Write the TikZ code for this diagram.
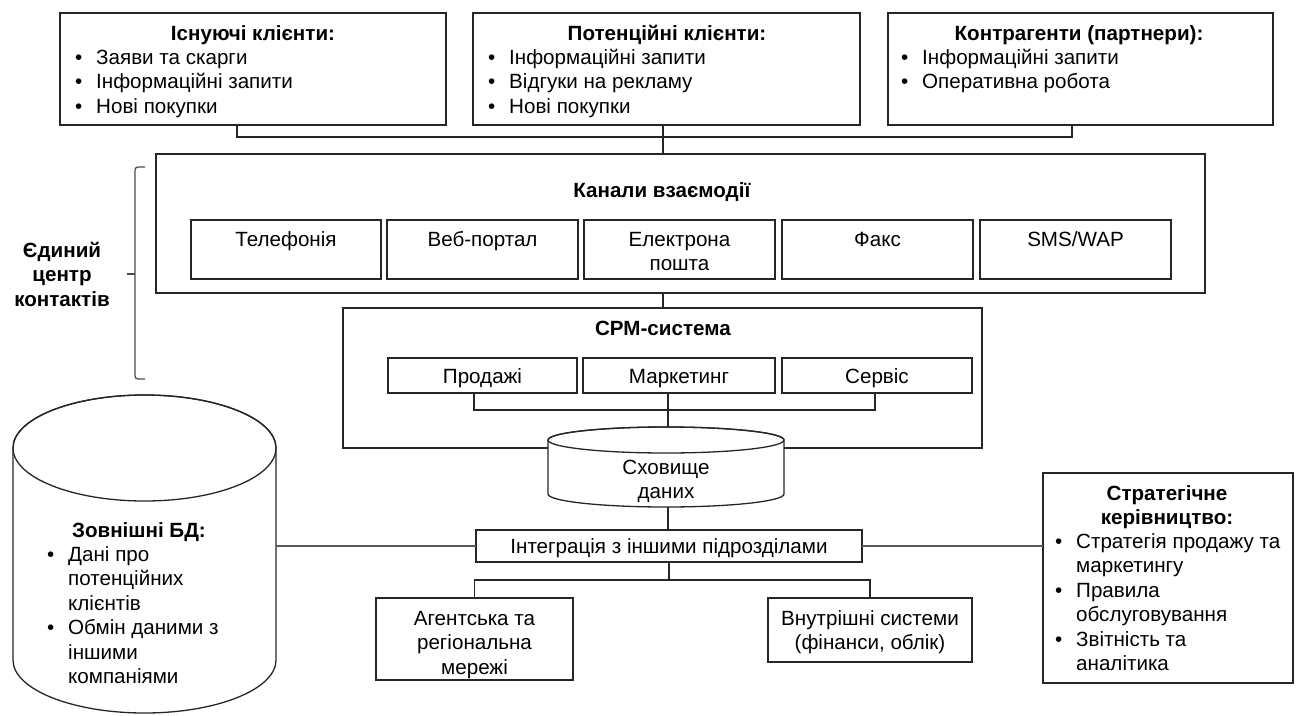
\documentclass[tikz,border=0pt]{standalone}
\usepackage{fontspec}
\setmainfont{Liberation Sans}
\newcommand\bl{\makebox[21pt][l]{•}}
\newcommand\ind{\hspace*{21pt}}
\begin{document}
\begin{tikzpicture}[x=1pt,y=-1pt,
  font=\fontsize{20.6}{24.5}\selectfont,
  box/.style={draw=black!85, line width=1.3pt, fill=white, inner sep=0pt, outer sep=0pt, anchor=north west},
  conn/.style={draw=black!85, line width=1.2pt},
  graycon/.style={draw=black!65, line width=1.5pt},
  txt/.style={inner sep=0pt, anchor=base},
  lst/.style={inner sep=0pt, anchor=base west},
]
\useasboundingbox (0,0) rectangle (1298,715);

% ---------- top boxes
\node[box, minimum width=386pt, minimum height=112pt] (b1) at (60,13) {};
\node[box, minimum width=387pt, minimum height=112pt] (b2) at (473,13) {};
\node[box, minimum width=385pt, minimum height=112pt] (b3) at (888,13) {};

\node[txt] (b1t) at (253,40) {\textbf{Існуючі клієнти:}};
\node[lst] (b1l) at (75,64) {\begin{tabular}[t]{@{}l@{}}\bl Заяви та скарги\\ \bl Інформаційні запити\\ \bl Нові покупки\end{tabular}};
\node[txt] (b2t) at (667,40) {\textbf{Потенційні клієнти:}};
\node[lst] (b2l) at (488,64) {\begin{tabular}[t]{@{}l@{}}\bl Інформаційні запити\\ \bl Відгуки на рекламу\\ \bl Нові покупки\end{tabular}};
\node[txt] (b3t) at (1079,40) {\textbf{Контрагенти (партнери):}};
\node[lst] (b3l) at (901,64) {\begin{tabular}[t]{@{}l@{}}\bl Інформаційні запити\\ \bl Оперативна робота\end{tabular}};

% ---------- channels
\node[box, minimum width=1049pt, minimum height=139pt] (kan) at (156,154) {};
\node[txt] (kant) at (662,197) {\textbf{Канали взаємодії}};
\node[box, minimum width=190pt, minimum height=59pt] (tel) at (191,220) {};
\node[box, minimum width=191pt, minimum height=59pt] (web) at (387,220) {};
\node[box, minimum width=191pt, minimum height=59pt] (mail) at (584,220) {};
\node[box, minimum width=191pt, minimum height=59pt] (fax) at (782,220) {};
\node[box, minimum width=191pt, minimum height=59pt] (sms) at (980,220) {};
\node[txt] (telt) at ([yshift=-26pt]tel.north) {Телефонія};
\node[txt] (webt) at ([yshift=-26pt]web.north) {Веб-портал};
\node[txt] (mailt) at ([yshift=-26pt]mail.north) {\begin{tabular}[t]{@{}c@{}}Електрона\\пошта\end{tabular}};
\node[txt] (faxt) at ([yshift=-26pt]fax.north) {Факс};
\node[txt] (smst) at ([yshift=-26pt]sms.north) {SMS/WAP};

% ---------- CRM
\node[box, minimum width=639pt, minimum height=140pt] (crm) at (343,308) {};
\node[txt] (crmt) at (663,335) {\textbf{СРМ-система}};
\node[box, minimum width=189pt, minimum height=35pt] (sales) at (388,358) {};
\node[box, minimum width=192pt, minimum height=35pt] (mkt) at (583,358) {};
\node[box, minimum width=190pt, minimum height=35pt] (serv) at (782,358) {};
\node[txt] (salest) at ([yshift=-7.5pt]sales.center) {Продажі};
\node[txt] (mktt) at ([yshift=-7.5pt]mkt.center) {Маркетинг};
\node[txt] (servt) at ([yshift=-7.5pt]serv.center) {Сервіс};

% ---------- connectors top
\coordinate (j1) at (237,137);
\coordinate (j2) at (1072,137);
\coordinate (k1) at (663,0);
\draw[conn] (b1.south -| j1) -- (j1) -- (j2) -- (b3.south -| j2);
\draw[conn] (b2.south -| k1) -- (kan.north -| k1);
\draw[conn] (kan.south -| k1) -- (crm.north -| k1);
\coordinate (c1) at (474,410);
\coordinate (c2) at (875,410);
\draw[conn] (sales.south -| c1) -- (c1) -- (c2) -- (serv.south -| c2);
\coordinate (m1) at (668,427);
\draw[conn] (mkt.south -| m1) -- (m1);

% ---------- data store cylinder
\filldraw[draw=black!85, line width=1.3pt, fill=white]
  (548,440) -- (548,494) arc[start angle=180, end angle=0, x radius=118, y radius=13]
  -- (784,440) arc[start angle=360, end angle=180, x radius=118, y radius=13] -- cycle;
\draw[draw=black!85, line width=1.3pt] (666,440) ellipse [x radius=118, y radius=13];
\node[txt] (store) at (666,474) {\begin{tabular}[t]{@{}c@{}}Сховище\\даних\end{tabular}};
\coordinate (sb) at (668,507);

% ---------- integration
\node[box, minimum width=386pt, minimum height=32pt] (integ) at (476,530) {};
\node[txt] (integt) at ([yshift=-7.5pt]integ.center) {Інтеграція з іншими підрозділами};
\draw[conn] (sb) -- (integ.north -| sb);

\node[box, minimum width=197pt, minimum height=82pt] (agent) at (376,598) {};
\node[box, minimum width=204pt, minimum height=64pt] (inner) at (768,598) {};
\node[txt] (agentt) at (474.5,625) {\begin{tabular}[t]{@{}c@{}}Агентська та\\регіональна\\мережі\end{tabular}};
\node[txt] (innert) at (870,625) {\begin{tabular}[t]{@{}c@{}}Внутрішні системи\\(фінанси, облік)\end{tabular}};
\coordinate (d1) at (669,580);
\draw[conn] (integ.south -| d1) -- (d1);
\draw[conn] (agent.north) |- (d1) -| (inner.north);

% ---------- strategic
\node[box, minimum width=250pt, minimum height=210pt] (strat) at (1043,473) {};
\node[txt] (stratt) at (1167,500) {\begin{tabular}[t]{@{}c@{}}\textbf{Стратегічне}\\\textbf{керівництво:}\end{tabular}};
\node[lst] (stratl) at (1055,548) {\begin{tabular}[t]{@{}l@{}}\bl Стратегія продажу та\\ \ind маркетингу\\ \bl Правила\\ \ind обслуговування\\ \bl Звітність та\\ \ind аналітика\end{tabular}};

% ---------- external DB cylinder
\filldraw[draw=black!85, line width=1.3pt, fill=white]
  (13,448) -- (13,660) arc[start angle=180, end angle=0, x radius=131.5, y radius=53]
  -- (276,448) arc[start angle=360, end angle=180, x radius=131.5, y radius=53] -- cycle;
\draw[draw=black!85, line width=1.3pt] (144.5,448) ellipse [x radius=131.5, y radius=53];
\node[txt] (extt) at (139,537) {\textbf{Зовнішні БД:}};
\node[lst] (extl) at (47,561) {\begin{tabular}[t]{@{}l@{}}\bl Дані про\\ \ind потенційних\\ \ind клієнтів\\ \bl Обмін даними з\\ \ind іншими\\ \ind компаніями\end{tabular}};
\coordinate (extr) at (276,546);
\draw[graycon] (extr) -- (integ.west);
\draw[graycon] (integ.east) -- (strat.west |- integ.east);

% ---------- brace
\draw[draw=black!70, line width=1.3pt, rounded corners=3pt] (145,167) -- (135,167) -- (135,379) -- (145,379);
\coordinate (br) at (135,274);
\draw[draw=black!70, line width=1.3pt] (br) -- ++(-8,0);
\node[txt] (unified) at (62,257) {\begin{tabular}[t]{@{}c@{}}\textbf{Єдиний}\\\textbf{центр}\\\textbf{контактів}\end{tabular}};
\end{tikzpicture}
\end{document}
